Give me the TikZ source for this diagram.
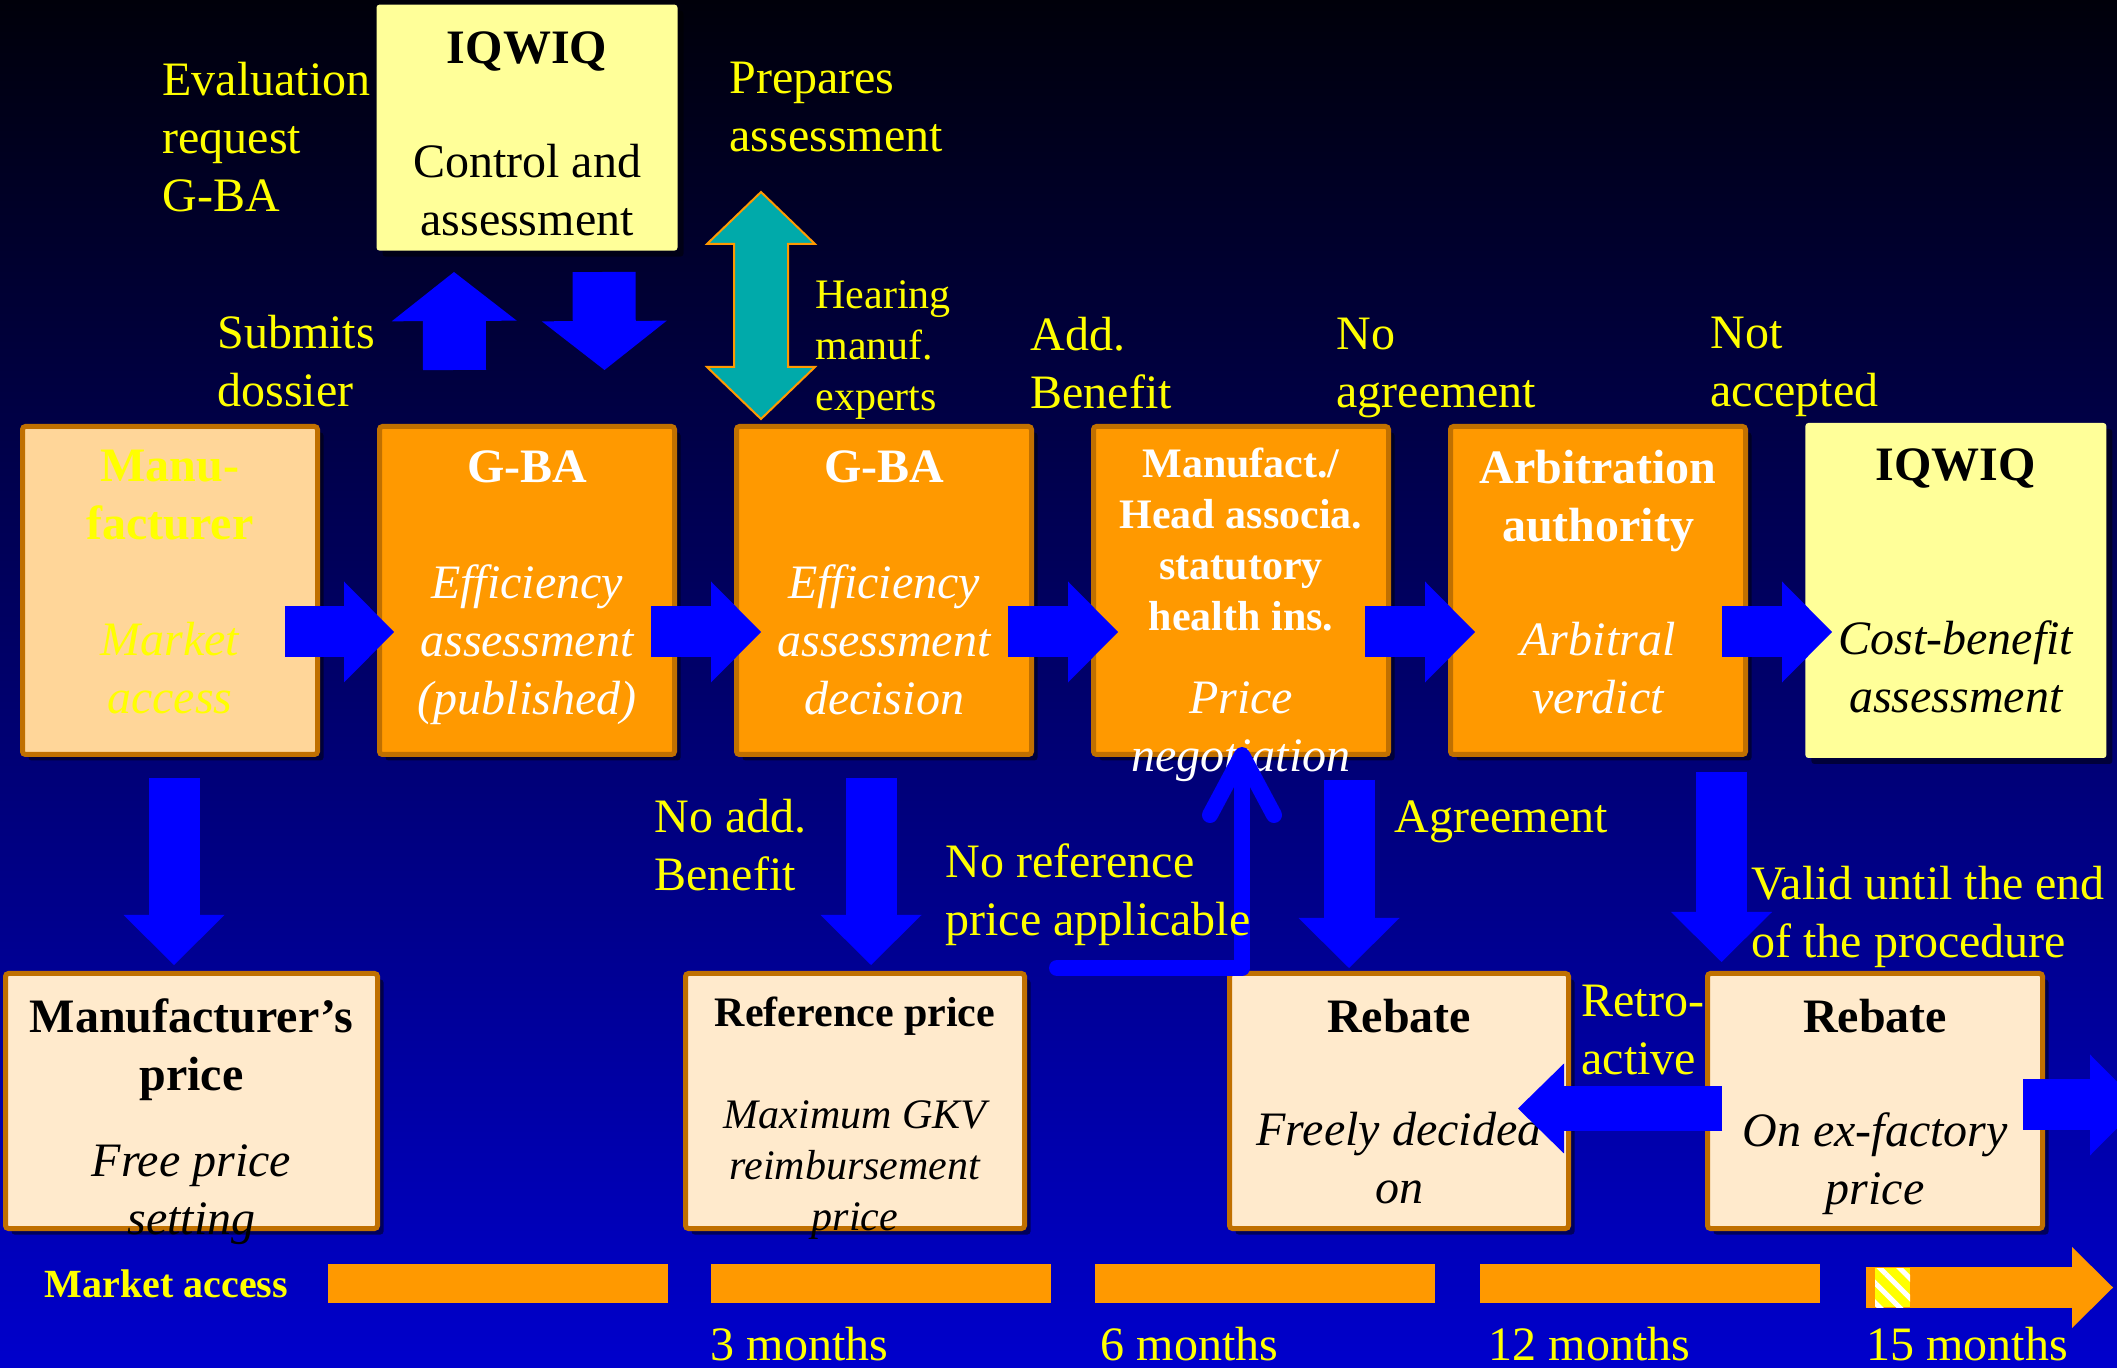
\documentclass[tikz,border=0pt]{standalone}
\usepackage{fontspec}
\setmainfont{Liberation Serif}
\usetikzlibrary{positioning, calc, arrows.meta, shadows, patterns.meta}

\definecolor{bgtop}{RGB}{0,0,10}
\definecolor{bgmid}{RGB}{0,0,144}
\definecolor{bgbot}{RGB}{0,0,204}
\definecolor{boxorange}{RGB}{255,153,0}
\definecolor{boxedge}{RGB}{192,112,0}
\definecolor{manufill}{RGB}{255,214,153}
\definecolor{pricefill}{RGB}{255,234,204}
\definecolor{iqfill}{RGB}{255,255,153}
\definecolor{arrowblue}{RGB}{0,0,255}
\definecolor{hearteal}{RGB}{0,170,170}
\definecolor{labelyellow}{RGB}{255,255,0}

\newcommand\bigtxt{\fontsize{24}{29}\selectfont}
\newcommand\midtxt{\fontsize{21}{25.5}\selectfont}
\newcommand\mktxt{\fontsize{20}{24}\selectfont}

\tikzset{
  box/.style={draw=boxedge, line width=2.5pt, rounded corners=1.5pt, inner sep=0pt,
    drop shadow={shadow xshift=3pt, shadow yshift=-3pt, opacity=0.5, fill=black}},
  obox/.style={box, fill=boxorange, minimum width=147.5pt, minimum height=164pt},
  mbox/.style={obox, fill=manufill},
  pbox/.style={box, fill=pricefill, minimum width=169.5pt, minimum height=127.5pt},
  qbox/.style={fill=iqfill, rounded corners=1.5pt, inner sep=0pt, minimum width=150.5pt,
    drop shadow={shadow xshift=3pt, shadow yshift=-3pt, opacity=0.5, fill=black}},
  ttl/.style={font=\bigtxt\bfseries, inner sep=0pt, align=center},
  bdy/.style={font=\bigtxt\itshape, inner sep=0pt, align=center},
  lbl/.style={font=\bigtxt, text=labelyellow, inner sep=0pt, align=left, anchor=north west},
  fatarrow/.style={draw=arrowblue, line width=25.5pt,
    -{Triangle[length=25pt, width=50.5pt, line width=0pt]}},
  widearrow/.style={fatarrow, line width=31.5pt,
    -{Triangle[length=24.5pt, width=62.5pt, line width=0pt]}},
  retroarrow/.style={fatarrow, line width=22.5pt,
    -{Triangle[length=23pt, width=45pt, line width=0pt]}},
  bar/.style={fill=boxorange, minimum width=170pt, minimum height=19.5pt, inner sep=0pt, outer sep=0pt}
}

\begin{document}
\begin{tikzpicture}[x=0.5pt, y=-0.5pt]
  \useasboundingbox (0,0) rectangle (2117,1368);
  \shade[top color=bgtop, middle color=bgmid, bottom color=bgbot] (0,0) rectangle (2117,1368);

  % Top row
  \node[mbox] (manu) at (170,590.5) {};
  \node[obox, right=28.5pt of manu] (gba1) {};
  \node[obox, right=28.5pt of gba1] (gba2) {};
  \node[obox, right=28.5pt of gba2] (nego) {};
  \node[obox, right=28.5pt of nego] (arbi) {};
  \node[qbox, minimum height=167.5pt, right=28.5pt of arbi] (iqcb) {};
  \node[qbox, minimum height=123pt, above=86.5pt of gba1] (iqtop) {};

  % Bottom row
  \node[pbox, minimum width=186pt] (mprice) at (191.5,1101) {};
  \node[pbox] (refp) at (855,1101) {};
  \node[pbox] (reb1) at (1399,1101) {};
  \node[pbox, minimum width=167.5pt] (reb2) at (1875,1101) {};

  % Box texts
  \node[ttl, below=13.5pt of iqtop.north] (iqtopt) {IQWIQ};
  \node[ttl, font=\bigtxt, below=70pt of iqtop.north] (iqtopb) {Control and\\assessment};
  \node[ttl, text=labelyellow, below=13pt of manu.north] (manut) {Manu-\\facturer};
  \node[bdy, text=labelyellow, below=99pt of manu.north] (manub) {Market\\access};
  \node[ttl, text=white, below=13pt of gba1.north] (gba1t) {G-BA};
  \node[bdy, text=white, below=70pt of gba1.north] (gba1b) {Efficiency\\assessment\\(published)};
  \node[ttl, text=white, below=13pt of gba2.north] (gba2t) {G-BA};
  \node[bdy, text=white, below=70pt of gba2.north] (gba2b) {Efficiency\\assessment\\decision};
  \node[ttl, font=\midtxt\bfseries, text=white, below=12pt of nego.north] (negot) {Manufact./\\Head associa.\\statutory\\health ins.};
  \node[bdy, text=white, below=128.5pt of nego.north] (negob) {Price\\negotiation};
  \node[ttl, text=white, below=13pt of arbi.north] (arbit) {Arbitration\\authority};
  \node[bdy, text=white, below=99pt of arbi.north] (arbib) {Arbitral\\verdict};
  \node[ttl, below=13pt of iqcb.north] (iqcbt) {IQWIQ};
  \node[bdy, below=99pt of iqcb.north] (iqcbb) {Cost-benefit\\assessment};

  \node[ttl, below=13.5pt of mprice.north] (mpricet) {Manufacturer’s\\price};
  \node[bdy, below=86.5pt of mprice.north] (mpriceb) {Free price\\setting};
  \node[ttl, font=\midtxt\bfseries, below=13pt of refp.north] (refpt) {Reference price};
  \node[bdy, font=\midtxt\itshape, below=64.5pt of refp.north] (refpb) {Maximum GKV\\reimbursement\\price};
  \node[ttl, below=14pt of reb1.north] (reb1t) {Rebate};
  \node[bdy, below=70.5pt of reb1.north] (reb1b) {Freely decided\\on};
  \node[ttl, below=14pt of reb2.north] (reb2t) {Rebate};
  \node[bdy, below=70.5pt of reb2.north] (reb2b) {On ex-factory\\price};

  % Time line
  \node[bar] (bar1) at (497.5,1283.5) {};
  \node[bar, right=21.5pt of bar1] (bar2) {};
  \node[bar, right=22pt of bar2] (bar3) {};
  \node[bar, right=22.5pt of bar3] (bar4) {};
  \node[font=\mktxt\bfseries, text=labelyellow, inner sep=0pt, left=19.5pt of bar1] (mktacc) {Market access};
  \node[lbl, below right=12pt and 0pt of bar2.south west] (m3) {3 months};
  \node[lbl, below right=12pt and 3pt of bar3.south west] (m6) {6 months};
  \node[lbl, below right=12pt and 4.5pt of bar4.south west] (m12) {12 months};
  \coordinate (tlend) at (2113,1287.5);
  \draw[fatarrow, draw=boxorange, line width=20.5pt,
    -{Triangle[length=20.5pt, width=40.5pt, line width=0pt]}] ($(bar4.east)+(46,4)$) -- (tlend);
  \node[fill=labelyellow, pattern={Lines[angle=-45, distance=7pt, line width=2.5pt]}, pattern color=white,
    minimum width=17.5pt, minimum height=19.5pt, inner sep=0pt, outer sep=0pt,
    preaction={fill=labelyellow}] (now) at (1892.5,1287.5) {};
  \node[lbl, below right=10pt and -4.5pt of now.south west] (m15) {15 months};

  % Block arrows
  \draw[fatarrow] ($(manu.east)+(-35,41.5)$) -- ($(gba1.west)+(17,41.5)$);
  \foreach \a/\b in {gba1/gba2, gba2/nego, nego/arbi, arbi/iqcb}
    \draw[fatarrow] ($(\a.east)+(-26,41.5)$) -- ($(\b.west)+(27,41.5)$);

  \draw[fatarrow] ($(manu.south)+(4,21)$) -- ($(manu.south |- mprice.north)+(4,-6)$);
  \draw[fatarrow] ($(gba2.south)+(-13,21)$) -- ($(gba2.south |- refp.north)+(-13,-6)$);
  \draw[fatarrow] ($(nego.south)+(108,23)$) -- ($(nego.south |- reb1.north)+(108,-3)$);
  \draw[fatarrow] ($(arbi.south)+(123.5,15)$) -- ($(arbi.south |- reb2.north)+(123.5,-9)$);

  \draw[widearrow] ($(gba1.north)+(-72.5,-54)$) -- ($(iqtop.south)+(-73,21)$);
  \draw[widearrow] ($(iqtop.south)+(77,21)$) -- ($(gba1.north)+(77.5,-54)$);

  \draw[retroarrow] ($(reb2.west)+(17,7.5)$) -- ($(reb1.east)+(-53,7.5)$);
  \coordinate (offpage) at (2140,1105);
  \draw[fatarrow] ($(reb2.east)+(-22,4)$) -- (offpage);

  % No reference price
  \coordinate (noref) at (1057,968);
  \draw[arrowblue, line width=8pt, line cap=round, line join=round,
    -{Straight Barb[length=30pt, width=32pt, round]}] (noref) -| ($(nego.south)+(1,-10)$);

  % Hearing
  \coordinate (hear) at (761,305.5);
  \draw[draw=boxorange, line width=1pt, fill=hearteal] ($(hear)+(0,-113.5)$) -- ++(54,52) -- ++(-27,0)
    -- ++(0,123) -- ++(27,0) -- ++(-54,52) -- ++(-54,-52) -- ++(27,0) -- ++(0,-123) -- ++(-27,0) -- cycle;

  % Labels
  \node[lbl] (evalreq) at (162,62) {Evaluation\\request\\G-BA};
  \node[lbl] (prepares) at (729,62) {Prepares\\assessment};
  \node[lbl] (submits) at (217,315) {Submits\\dossier};
  \node[lbl, font=\midtxt] (hearing) at (815,280) {Hearing\\manuf.\\experts};
  \node[lbl] (addben) at (1030,317) {Add.\\Benefit};
  \node[lbl] (noagree) at (1336,318) {No\\agreement};
  \node[lbl] (notacc) at (1710,317) {Not\\accepted};
  \node[lbl] (noadd) at (654,799) {No add.\\Benefit};
  \node[lbl] (norefl) at (945,843) {No reference\\price applicable};
  \node[lbl] (agree) at (1394,800) {Agreement};
  \node[lbl] (valid) at (1751,866) {Valid until the end\\of the procedure};
  \node[lbl] (retro) at (1581,985) {Retro-\\active};
\end{tikzpicture}
\end{document}
